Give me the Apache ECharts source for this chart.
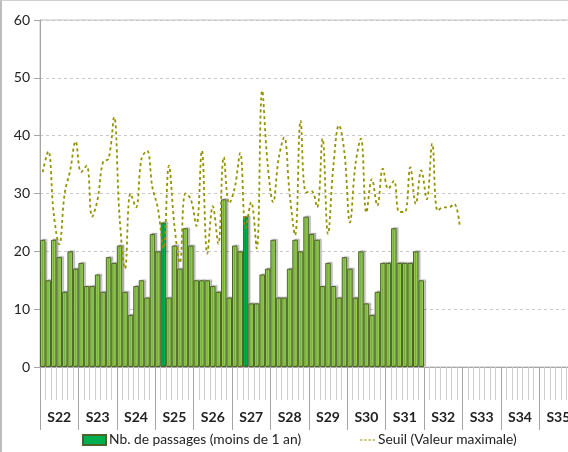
<!DOCTYPE html>
<html><head><meta charset="utf-8">
<script src="https://cdn.jsdelivr.net/npm/echarts@6/dist/echarts.min.js"></script>
<style>
html,body{margin:0;padding:0;background:#fff;overflow:hidden}
#wrap{position:absolute;left:0;top:0;width:568px;height:452px;overflow:hidden}
#c{width:580px;height:452px;position:absolute;left:0;top:0}
#frame{position:absolute;left:0;top:0;width:568px;height:452px;border-left:2px solid #bdbdbd;border-top:1px solid #cfcfcf;box-sizing:border-box;pointer-events:none}
</style>
</head><body><div id="wrap"><div id="c"></div><div id="frame"></div></div>
<script>
const weeks = ['S22','S23','S24','S25','S26','S27','S28','S29','S30','S31','S32','S33','S34','S35'];
const daysPerWeek = 7;
const passages = [
  22,15,22,19,13,20,17,
  18,14,14,16,13,19,18,
  21,13,9,14,15,12,23,
  20,25,12,21,17,24,21,
  15,15,15,14,13,29,12,
  21,20,26,11,11,16,17,
  22,12,12,17,22,20,26,
  23,22,14,18,14,12,19,
  17,12,20,11,9,13,18,
  18,24,18,18,18,20,15
];
const seuil = [
  33.7,37.3,26.5,21.2,30,34,39,33.7,34.8,26,
  29,35.5,36,43.2,26,17,30,27.6,36,37.4,
  31,27.4,20.5,34.8,24.5,18,30,29,24.4,37.4,
  19.6,27.8,21.3,36.3,28.3,31,37,24,28.5,20.5,
  47.8,35,28.5,36,39.7,30,22.8,42.6,30.2,30.4,
  27.6,39.5,23,35,41.8,37,25,35,39.5,26.7,
  32.5,27.9,34.3,30.8,32.2,26.8,26.8,34.5,28.2,34,
  29,38.6,27,27.6,27.6,28.2,24.4
];
const highlightDays = [22, 37];
const yMin = 0, yMax = 60, yStep = 10;
const seriesNames = ['Nb. de passages (moins de 1 an)', 'Seuil (Valeur maximale)'];

const days = [];
weeks.forEach(w => { for (let d = 1; d <= daysPerWeek; d++) days.push(w + '-' + d); });

const barData = passages.map((v, i) => highlightDays.includes(i) ? v : { value: v, itemStyle: { color: '#92D050' } });

const FONT = 'Lato';
const chart = echarts.init(document.getElementById('c'), null, { renderer: 'canvas' });
chart.setOption({
  animation: false,
  backgroundColor: '#fff',
  grid: { left: 40, top: 20, width: 537.6, height: 347, show: true, borderColor: '#bfbfbf', borderWidth: 1, backgroundColor: 'transparent' },
  legend: [
    { data: [{ name: seriesNames[0], icon: 'rect' }], left: 82, top: 433, padding: 0, itemWidth: 23, itemHeight: 10,
      textStyle: { fontFamily: FONT, fontSize: 13.8, color: '#222', padding: [0,0,0,-2] } },
    { data: [{ name: seriesNames[1], icon: 'path://M0,0 L3,0 L3,1 L0,1 Z M5,0 L8,0 L8,1 L5,1 Z M10,0 L13,0 L13,1 L10,1 Z M15,0 L18,0 L18,1 L15,1 Z' }],
      left: 360, top: 433, padding: 0, itemWidth: 15, itemHeight: 2,
      textStyle: { fontFamily: FONT, fontSize: 13.8, color: '#222', padding: [0,0,0,-2] } }
  ],
  xAxis: [
    { type: 'category', data: days, gridIndex: 0, boundaryGap: true,
      axisLine: { lineStyle: { color: '#a6a6a6' } },
      axisTick: { show: true, interval: 0, length: 33, lineStyle: { color: '#cdcdcd' } },
      axisLabel: { show: false }, splitLine: { show: false } },
    { type: 'category', data: weeks, gridIndex: 0, position: 'bottom', boundaryGap: true,
      axisLine: { show: false },
      axisTick: { show: true, interval: 0, length: 63, lineStyle: { color: '#a6a6a6' } },
      axisLabel: { interval: 0, margin: 43, fontFamily: FONT, fontWeight: 'bold', fontSize: 14, color: '#222' },
      splitLine: { show: false } }
  ],
  yAxis: {
    type: 'value', min: yMin, max: yMax, interval: yStep,
    axisLine: { show: true, lineStyle: { color: '#a6a6a6' } },
    axisTick: { show: true, length: 6, lineStyle: { color: '#a6a6a6' } },
    axisLabel: { margin: 10, fontFamily: FONT, fontSize: 14, color: '#222' },
    splitLine: { show: true, lineStyle: { type: [3, 3], color: '#c8c8c8' } }
  },
  series: [
    { name: seriesNames[0], type: 'bar', xAxisIndex: 0, data: barData,
      barCategoryGap: 0, barGap: 0,
      itemStyle: { color: '#00B050', borderColor: '#4F6228', borderWidth: 1,
        shadowColor: 'rgba(0,0,0,0.22)', shadowOffsetX: 2, shadowOffsetY: -1, shadowBlur: 1 },
      z: 2 },
    { name: seriesNames[1], type: 'line', xAxisIndex: 0, data: seuil,
      smooth: 0.4, symbol: 'none',
      lineStyle: { color: '#939300', width: 1.8, type: [3, 3] },
      itemStyle: { color: '#939300' }, z: 3 }
  ]
});
</script>
</body></html>
